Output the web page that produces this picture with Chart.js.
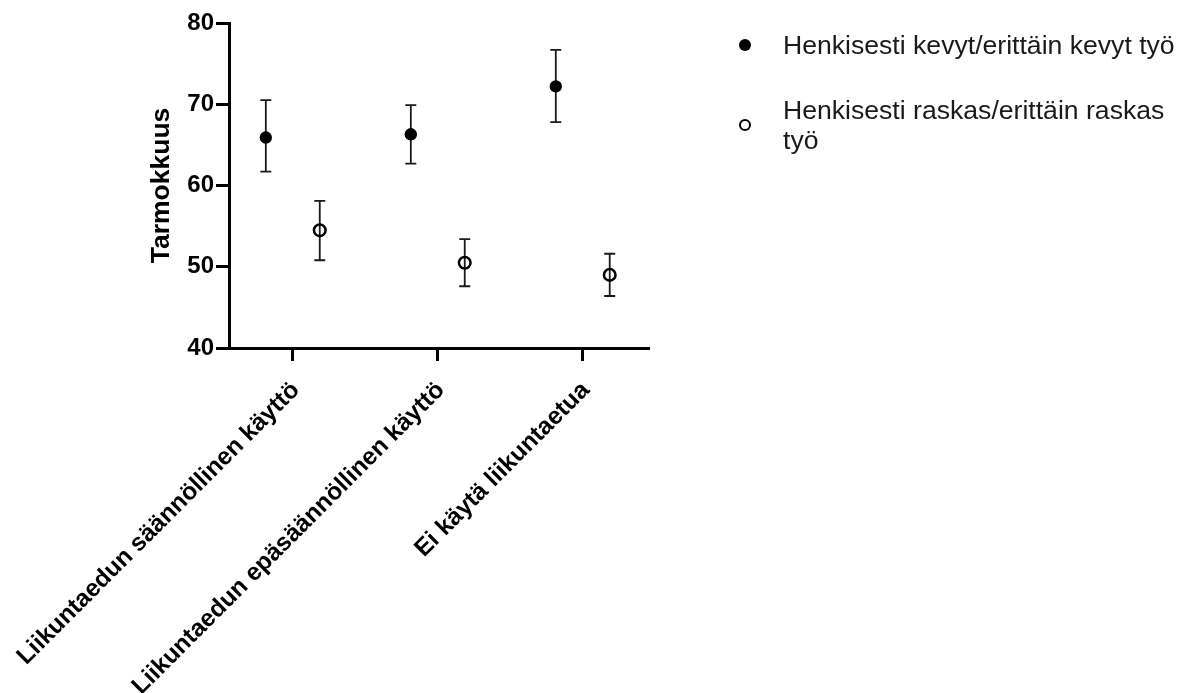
<!DOCTYPE html>
<html>
<head>
<meta charset="utf-8">
<script src="https://cdn.jsdelivr.net/npm/chart.js@4"></script>
<style>
  body { margin: 0; background: #fff; }
  #wrap { position: relative; width: 1189px; height: 693px; }
  #legend { position: absolute; left: 733px; top: 30px; font-family: "Liberation Sans", Arial, sans-serif; font-size: 26.6px; color: #1a1a1a; }
  .item { position: relative; padding-left: 50px; width: 410px; line-height: 30px; margin-bottom: 35px; }
  .dot { position: absolute; left: 6px; top: 50%; width: 12px; height: 12px; margin-top: -6px; border-radius: 50%; box-sizing: border-box; }
  .filled { background: #000; }
  .open { border: 2.5px solid #000; }
</style>
</head>
<body>
<div id="wrap">
  <canvas id="myChart" width="1189" height="693"></canvas>
  <div id="legend">
    <div class="item"><span class="dot filled"></span>Henkisesti kevyt/erittäin kevyt työ</div>
    <div class="item"><span class="dot open"></span>Henkisesti raskas/erittäin raskas työ</div>
  </div>
</div>
<script>
const categories = ['Liikuntaedun säännöllinen käyttö', 'Liikuntaedun epäsäännöllinen käyttö', 'Ei käytä liikuntaetua'];
const seriesNames = ['Henkisesti kevyt/erittäin kevyt työ', 'Henkisesti raskas/erittäin raskas työ'];

const lightMean = [65.9, 66.3, 72.2];
const lightLow = [61.7, 62.7, 67.8];
const lightHigh = [70.5, 69.9, 76.7];

const heavyMean = [54.5, 50.5, 49.0];
const heavyLow = [50.8, 47.6, 46.4];
const heavyHigh = [58.1, 53.4, 51.6];

const yTicks = [40, 50, 60, 70, 80];

const FONT = '"Liberation Sans", Arial, sans-serif';
const shift = 0.186; // horizontal dodge of the two groups

function toPoints(means, low, high, dx) {
    return means.map((m, i) => ({ x: i + dx, y: m, low: low[i], high: high[i] }));
}

// error bars with caps, drawn under the markers
const errorBars = {
    id: 'errorBars',
    beforeDatasetsDraw(chart) {
        const ctx = chart.ctx;
        const xs = chart.scales.x, ys = chart.scales.y;
        ctx.save();
        ctx.strokeStyle = '#1a1a1a';
        ctx.lineWidth = 1.8;
        chart.data.datasets.forEach(ds => {
            ds.data.forEach(p => {
                const x = xs.getPixelForValue(p.x);
                const yl = ys.getPixelForValue(p.low);
                const yh = ys.getPixelForValue(p.high);
                ctx.beginPath();
                ctx.moveTo(x, yl); ctx.lineTo(x, yh);
                ctx.moveTo(x - 5.5, yl); ctx.lineTo(x + 5.5, yl);
                ctx.moveTo(x - 5.5, yh); ctx.lineTo(x + 5.5, yh);
                ctx.stroke();
            });
        });
        ctx.restore();
    }
};

const ctx = document.getElementById('myChart').getContext('2d');
const myChart = new Chart(ctx, {
    type: 'scatter',
    data: {
        datasets: [{
            label: seriesNames[0],
            data: toPoints(lightMean, lightLow, lightHigh, -shift),
            pointRadius: 6.2,
            backgroundColor: '#000',
            borderColor: '#000',
            borderWidth: 0
        }, {
            label: seriesNames[1],
            data: toPoints(heavyMean, heavyLow, heavyHigh, shift),
            pointRadius: 5.8,
            backgroundColor: 'rgba(0,0,0,0)',
            borderColor: '#000',
            borderWidth: 2.5
        }]
    },
    options: {
        responsive: false,
        animation: false,
        layout: { padding: { left: 0, top: 23, right: 541, bottom: 0 } },
        plugins: { legend: { display: false }, tooltip: { enabled: false } },
        scales: {
            x: {
                type: 'linear',
                min: -0.44,
                max: 2.45,
                afterBuildTicks: s => { s.ticks = categories.map((c, i) => ({ value: i })); },
                afterFit: s => { s.height = 345; s.paddingLeft = 0; s.paddingRight = 0; },
                border: { color: '#000', width: 3 },
                grid: { drawOnChartArea: false, drawTicks: true, tickLength: 13, color: '#000', lineWidth: 3 },
                ticks: {
                    autoSkip: false,
                    minRotation: 45,
                    maxRotation: 45,
                    padding: 15,
                    labelOffset: 3,
                    color: '#000',
                    font: { family: FONT, size: 24.5, weight: 'bold' },
                    callback: v => categories[v]
                }
            },
            y: {
                min: 40,
                max: 80,
                afterBuildTicks: s => { s.ticks = yTicks.map(v => ({ value: v })); },
                afterFit: s => { s.width = 229; },
                border: { color: '#000', width: 3 },
                grid: { drawOnChartArea: false, drawTicks: true, tickLength: 13, color: '#000', lineWidth: 3 },
                ticks: {
                    padding: 2,
                    color: '#000',
                    font: { family: FONT, size: 24, weight: 'bold' }
                },
                title: {
                    display: true,
                    text: 'Tarmokkuus',
                    color: '#000',
                    padding: { top: 146 },
                    font: { family: FONT, size: 26.5, weight: 'bold' }
                }
            }
        }
    },
    plugins: [errorBars]
});
</script>
</body>
</html>
